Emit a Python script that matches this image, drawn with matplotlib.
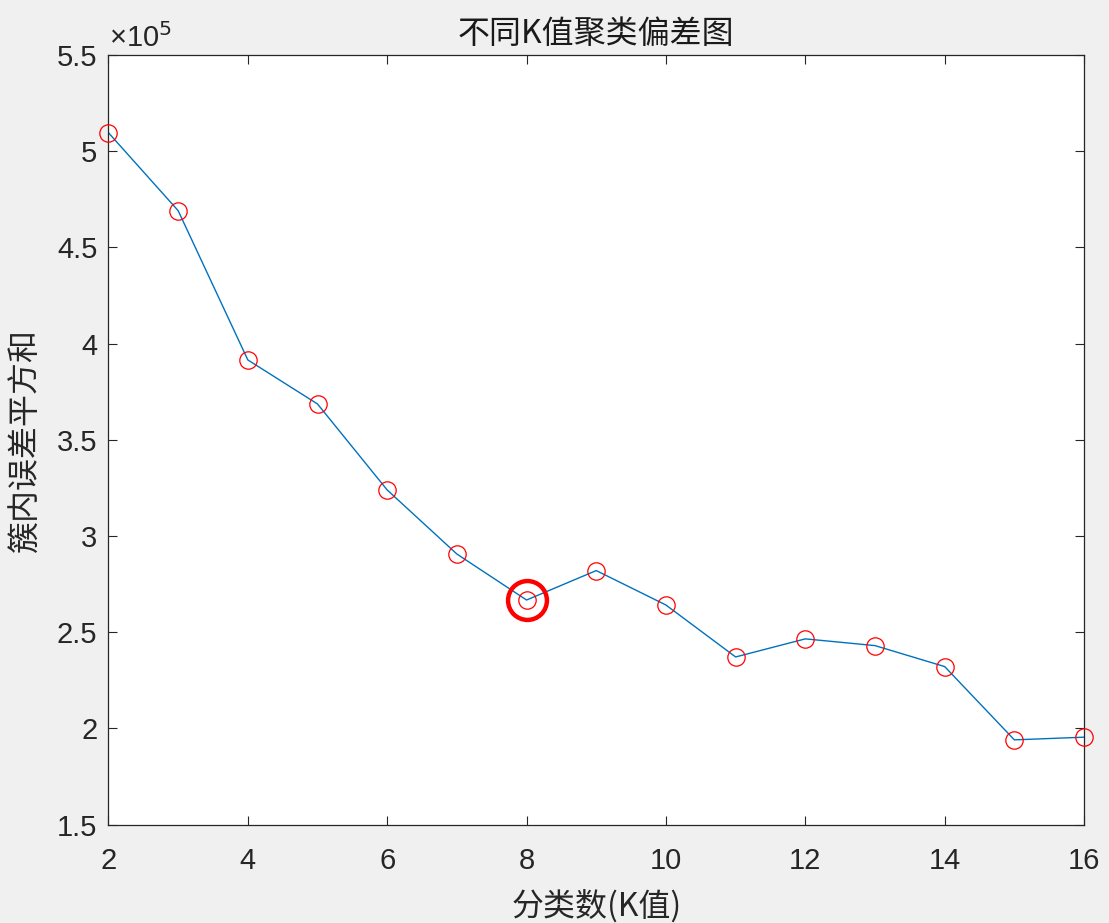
import numpy as np
from matplotlib import pyplot as plt
from matplotlib.ticker import FuncFormatter

plt.rcParams['font.family'] = ['Liberation Sans', 'Noto Sans CJK SC', 'DejaVu Sans']

# 分类数 K 与对应的簇内误差平方和
k_values = [2, 3, 4, 5, 6, 7, 8, 9, 10, 11, 12, 13, 14, 15, 16]
sse = [509600, 469100, 391500, 368600, 323900, 290600, 266700, 282000,
       264100, 237100, 246500, 243000, 232100, 194000, 195400]
best_k = 8

x_ticks = [2, 4, 6, 8, 10, 12, 14, 16]
y_ticks = [150000, 200000, 250000, 300000, 350000, 400000, 450000, 500000, 550000]

gris = '#262626'
cjk = ['Noto Sans CJK SC', 'Liberation Sans']

fig = plt.figure(figsize=(11.09, 9.23), dpi=100, facecolor='#f0f0f0')
ax = fig.add_axes([0.0978, 0.1067, 0.8797, 0.8337])

ax.plot(k_values, sse, color='#0072BD', linewidth=1.0, zorder=2)
ax.plot(k_values, sse, linestyle='none', marker='o', markersize=12.5,
        markerfacecolor='none', markeredgecolor='#ff0000', markeredgewidth=0.9,
        clip_on=False, zorder=3)

# punto destacado (codo)
i = k_values.index(best_k)
ax.plot([best_k], [sse[i]], linestyle='none', marker='o', markersize=28,
        markerfacecolor='none', markeredgecolor='#ff0000', markeredgewidth=3.2,
        zorder=4)

ax.set_xlim(2, 16)
ax.set_ylim(150000, 550000)
ax.set_xticks(x_ticks)
ax.set_yticks(y_ticks)
ax.yaxis.set_major_formatter(FuncFormatter(lambda v, p: '%g' % (v / 1e5)))

ax.tick_params(direction='in', length=6.5, width=0.8, colors=gris,
               labelsize=21, top=True, right=True, pad=8)
ax.tick_params(axis='x', pad=16)
for s in ax.spines.values():
    s.set_color(gris)
    s.set_linewidth(0.9)

ax.text(0.001, 1.003, '×10$^5$', transform=ax.transAxes, fontsize=21,
        color=gris, ha='left', va='bottom')

ax.set_title('不同K值聚类偏差图', fontsize=23, color='#1a1a1a', family=cjk, pad=9)
ax.set_xlabel('分类数(K值)', fontsize=23, color=gris, family=cjk, labelpad=11)
ax.set_ylabel('簇内误差平方和', fontsize=23, color=gris, family=cjk, labelpad=11)

plt.savefig('out.png', dpi=100, facecolor=fig.get_facecolor())
